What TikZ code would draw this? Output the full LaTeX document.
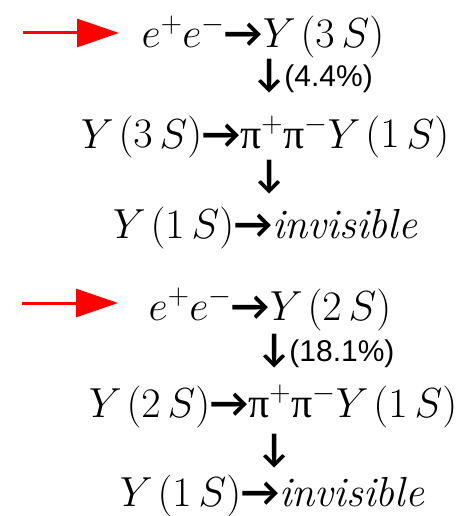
\documentclass[tikz,border=0pt]{standalone}
\usepackage{fix-cm}
\usepackage{fontspec}
\newfontfamily\arrowfont{Carlito}
\newfontfamily\pctfont{Liberation Sans}
\newfontfamily\greekfont{Liberation Serif}
\newcommand{\goright}{\mbox{\arrowfont\bfseries →}}
\newcommand{\godown}{\mbox{\arrowfont\bfseries\fontsize{40}{46}\selectfont ↓}}
\newcommand{\piup}{\mbox{\greekfont π}}
\newcommand{\ups}[1]{Y\mkern2mu\bigl(#1\,S\bigr)}
\usetikzlibrary{arrows.meta}

\begin{document}
\begin{tikzpicture}[x=1pt,y=1pt,
  eqn/.style={anchor=base,inner sep=0pt,font=\fontsize{42}{48}\selectfont},
  pct/.style={anchor=base west,inner sep=0pt,font=\pctfont\fontsize{30}{34}\selectfont},
  redarr/.style={red,line width=3pt,-{Triangle[length=42pt,width=28pt]}}]
  \useasboundingbox (0,0) rectangle (461,-516); % 全体の大きさ
  % 上の組（3S）
  \coordinate (a1) at (23,-33); % 赤い矢印の始点
  \coordinate (b1) at (119,-33); % 赤い矢印の終点
  \draw[redarr] (a1) -- (b1); % 1つ目の赤い矢印
  \node[eqn] (prod3) at (263,-48) {$e^{+}e^{-}\goright\ups{3}$}; % 生成
  \node[pct] (br3) at (251,-87) {\godown\kern-3pt(4.4\%)}; % 分岐比
  \node[eqn] (trans3) at (265,-148) {$\ups{3}\goright\piup^{+}\piup^{-}\ups{1}$}; % 遷移
  \node[pct] (dn3) at (251,-187) {\godown}; % 下向き矢印
  \node[eqn] (inv3) at (265,-238) {$\ups{1}\goright\mathit{invisible}$}; % 不可視崩壊
  % 下の組（2S）
  \coordinate (a2) at (22,-303); % 赤い矢印の始点
  \coordinate (b2) at (118,-303); % 赤い矢印の終点
  \draw[redarr] (a2) -- (b2); % 2つ目の赤い矢印
  \node[eqn] (prod2) at (270,-320) {$e^{+}e^{-}\goright\ups{2}$}; % 生成
  \node[pct] (br2) at (256,-361) {\godown\kern-3pt(18.1\%)}; % 分岐比
  \node[eqn] (trans2) at (273,-417) {$\ups{2}\goright\piup^{+}\piup^{-}\ups{1}$}; % 遷移
  \node[pct] (dn2) at (256,-461) {\godown}; % 下向き矢印
  \node[eqn] (inv2) at (272,-506) {$\ups{1}\goright\mathit{invisible}$}; % 不可視崩壊
\end{tikzpicture}
\end{document}
